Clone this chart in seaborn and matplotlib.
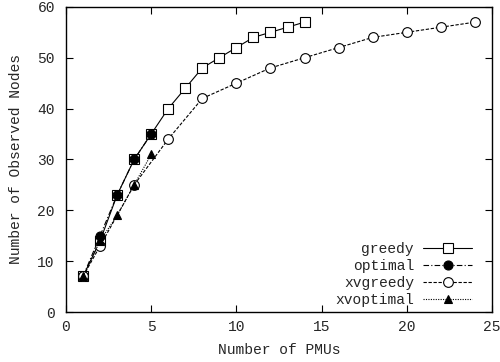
import matplotlib
matplotlib.use("Agg")
import matplotlib.pyplot as plt
import seaborn as sns
import pandas as pd

# Observed nodes versus number of PMUs placed, per placement strategy
greedy_x = [1, 2, 3, 4, 5, 6, 7, 8, 9, 10, 11, 12, 13, 14]
greedy_y = [7, 14, 23, 30, 35, 40, 44, 48, 50, 52, 54, 55, 56, 57]

optimal_x = [1, 2, 3, 4, 5]
optimal_y = [7, 15, 23, 30, 35]

xvgreedy_x = [1, 2, 4, 6, 8, 10, 12, 14, 16, 18, 20, 22, 24]
xvgreedy_y = [7, 13, 25, 34, 42, 45, 48, 50, 52, 54, 55, 56, 57]

xvoptimal_x = [1, 2, 3, 4, 5]
xvoptimal_y = [7, 14, 19, 25, 31]

x_ticks = [0, 5, 10, 15, 20, 25]
y_ticks = [0, 10, 20, 30, 40, 50, 60]

sns.set_theme(style="ticks")
plt.rcParams["font.family"] = ["Liberation Mono", "DejaVu Sans Mono"]
plt.rcParams["font.size"] = 10.5

fig = plt.figure(figsize=(5.0, 3.62), dpi=100)
ax = fig.add_axes([0.132, 0.138, 0.852, 0.843])

series = [
    ("greedy", greedy_x, greedy_y, dict(linestyle="-", marker="s", mfc="white", ms=7)),
    ("optimal", optimal_x, optimal_y, dict(linestyle=(0, (5, 2, 1, 2)), marker="o", mfc="black", ms=6.5)),
    ("xvgreedy", xvgreedy_x, xvgreedy_y, dict(linestyle=(0, (3, 1.5)), marker="o", mfc="white", ms=7)),
    ("xvoptimal", xvoptimal_x, xvoptimal_y, dict(linestyle=(0, (1, 1.2)), marker="^", mfc="black", ms=6)),
]

for name, xs, ys, style in series:
    df = pd.DataFrame({"x": xs, "y": ys})
    sns.lineplot(data=df, x="x", y="y", ax=ax, color="black", linewidth=0.8,
                 linestyle=style["linestyle"], marker=style["marker"],
                 markerfacecolor=style["mfc"], markeredgecolor="black",
                 markeredgewidth=0.8, markersize=style["ms"], label=name)

ax.set_xlim(0, 25)
ax.set_ylim(0, 60)
ax.set_xticks(x_ticks)
ax.set_yticks(y_ticks)
ax.tick_params(direction="in", length=5, width=0.8, top=True, right=True,
               labelsize=10.5, color="black")
ax.tick_params(axis="x", pad=6)
ax.tick_params(axis="y", pad=8)
for s in ax.spines.values():
    s.set_linewidth(1.0)
    s.set_color("black")

ax.set_xlabel("Number of PMUs", fontsize=10.5, labelpad=6)
ax.set_ylabel("Number of Observed Nodes", fontsize=10.5, labelpad=10)

leg = ax.legend(loc="lower right", bbox_to_anchor=(0.988, -0.03), frameon=False,
                markerfirst=False, handlelength=3.4, handletextpad=0.6,
                labelspacing=0.2, fontsize=10.5, borderaxespad=0.6)

fig.savefig("out.png", dpi=100)
